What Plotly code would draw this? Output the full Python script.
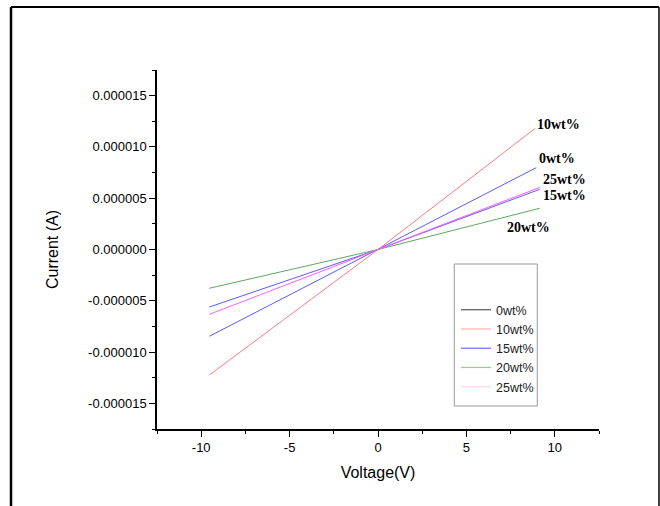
import plotly.graph_objects as go

# ---- data ----
series_names = ["0wt%", "10wt%", "15wt%", "20wt%", "25wt%"]
voltage_0 = [-9.54, 0.0, 8.95]
current_0 = [-8.46e-6, 0.0, 7.98e-6]
voltage_10 = [-9.54, 0.0, 8.9]
current_10 = [-12.24e-6, 0.0, 11.82e-6]
voltage_15 = [-9.54, 0.0, 9.15]
current_15 = [-5.61e-6, 0.0, 5.87e-6]
voltage_20 = [-9.54, 0.0, 9.15]
current_20 = [-3.78e-6, 0.0, 4.02e-6]
voltage_25 = [-9.54, 0.0, 9.15]
current_25 = [-6.32e-6, 0.0, 6.06e-6]

x_tick_vals = [-10, -5, 0, 5, 10]
x_tick_text = ["-10", "-5", "0", "5", "10"]
y_tick_vals = [-15e-6, -10e-6, -5e-6, 0, 5e-6, 10e-6, 15e-6]
y_tick_text = ["-0.000015", "-0.000010", "-0.000005", "0.000000",
               "0.000005", "0.000010", "0.000015"]

label_text = ["10wt%", "0wt%", "25wt%", "15wt%", "20wt%"]
label_x = [8.88, 9.0, 9.22, 9.22, 7.2]
label_y = [12.14e-6, 8.89e-6, 6.84e-6, 5.31e-6, 2.16e-6]

# ---- styles ----
line_colors = {"0wt%": "#5a5aff", "10wt%": "#ff7a7a", "15wt%": "#5a5aff",
               "20wt%": "#5fa85f", "25wt%": "#ff5cff"}
legend_colors = {"0wt%": "#555555", "10wt%": "#ffb0b0", "15wt%": "#6a6aff",
                 "20wt%": "#8fd08f", "25wt%": "#ffd8e2"}

data = {
    "0wt%": (voltage_0, current_0),
    "10wt%": (voltage_10, current_10),
    "15wt%": (voltage_15, current_15),
    "20wt%": (voltage_20, current_20),
    "25wt%": (voltage_25, current_25),
}

fig = go.Figure()
for name in series_names:
    xv, yv = data[name]
    fig.add_trace(go.Scatter(x=xv, y=yv, mode="lines", name=name,
                             line=dict(color=line_colors[name], width=1),
                             showlegend=False))
for name in series_names:
    fig.add_trace(go.Scatter(x=[None], y=[None], mode="lines", name=name,
                             line=dict(color=legend_colors[name], width=1.2),
                             showlegend=True))

for t, xx, yy in zip(label_text, label_x, label_y):
    fig.add_annotation(x=xx, y=yy, text="<b>" + t + "</b>", showarrow=False,
                       xanchor="left", yanchor="middle",
                       font=dict(family="Liberation Serif", size=14, color="black"))

# legend frame and outer border
shapes = [
    dict(type="rect", xref="paper", yref="paper", x0=0.6726, x1=0.8604,
         y0=0.0641, y1=0.4596, line=dict(color="#999999", width=1)),
    dict(type="line", xref="paper", yref="paper", x0=-0.3303, x1=-0.3303,
         y0=-0.4, y1=1.1755, line=dict(color="black", width=2.5)),
    dict(type="line", xref="paper", yref="paper", x0=-0.3303, x1=1.1357,
         y0=1.1755, y1=1.1755, line=dict(color="black", width=2)),
    dict(type="line", xref="paper", yref="paper", x0=1.1357, x1=1.1357,
         y0=-0.4, y1=1.1755, line=dict(color="black", width=1.5)),
]

fig.update_layout(
    width=660, height=506,
    margin=dict(l=157, r=61, t=70, b=77),
    paper_bgcolor="white", plot_bgcolor="white",
    shapes=shapes,
    font=dict(family="Liberation Sans", color="black"),
    legend=dict(x=0.6765, y=0.373, xanchor="left", yanchor="top",
                bgcolor="rgba(0,0,0,0)", borderwidth=0,
                font=dict(family="Liberation Sans", size=12.5, color="#222222"),
                tracegroupgap=0),
    xaxis=dict(range=[-12.5, 12.5], showgrid=False, zeroline=False,
               showline=True, linecolor="black", linewidth=1.5,
               ticks="outside", ticklen=6, tickwidth=1.2, tickcolor="black",
               tickmode="array", tickvals=x_tick_vals, ticktext=x_tick_text,
               tickfont=dict(size=13, family="Liberation Sans", color="black"),
               minor=dict(tickmode="linear", tick0=0, dtick=2.5, ticks="outside",
                          ticklen=3, tickwidth=1.2, tickcolor="black"),
               title=dict(text="Voltage(V)", standoff=12,
                          font=dict(size=16, family="Liberation Sans", color="black"))),
    yaxis=dict(range=[-17.5e-6, 17.5e-6], showgrid=False, zeroline=False,
               showline=True, linecolor="black", linewidth=1.5,
               ticks="outside", ticklen=6, tickwidth=1.2, tickcolor="black",
               tickmode="array", tickvals=y_tick_vals, ticktext=y_tick_text,
               tickfont=dict(size=13, family="Liberation Sans", color="black"),
               minor=dict(tickmode="linear", tick0=0, dtick=2.5e-6, ticks="outside",
                          ticklen=3, tickwidth=1.2, tickcolor="black"),
               title=dict(text="Current (A)", standoff=25,
                          font=dict(size=16, family="Liberation Sans", color="black"))),
)

fig.write_html("out.html", config={"displayModeBar": False},
               post_script="document.body.style.margin='0';document.body.style.overflow='hidden';")
